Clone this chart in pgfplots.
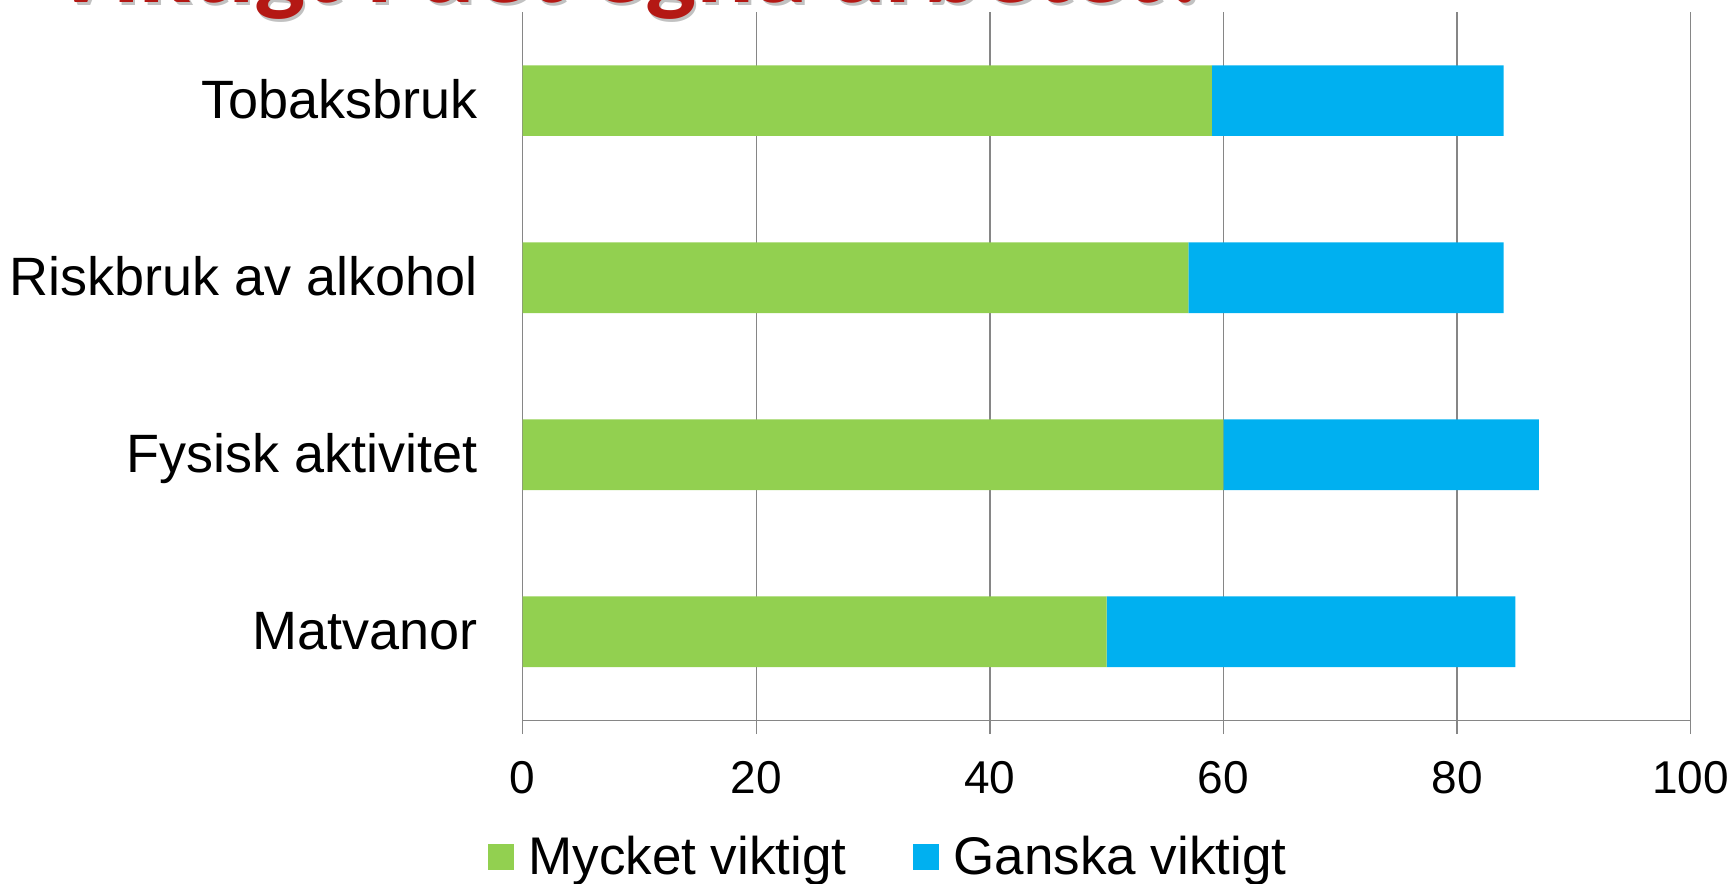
\documentclass[border=0pt]{standalone}
\usepackage{fontspec}
\setmainfont{Liberation Sans}
\newfontfamily\titlefont{Carlito}[FakeStretch=1.08]
\usepackage{pgfplots}
\pgfplotsset{compat=1.18}
\definecolor{cgreen}{RGB}{146,208,80}
\definecolor{cblue}{RGB}{0,176,240}
\definecolor{cgrid}{RGB}{134,134,134}
\definecolor{ctitle}{RGB}{180,24,20}
\begin{document}
\begin{tikzpicture}
\path[use as bounding box] (0,0) rectangle (868pt,442pt);
\clip (0,0) rectangle (868pt,442pt);
\node[anchor=base west, inner sep=0pt, text=black!35, opacity=0.7] at (25.8pt,439.2pt) {\titlefont\bfseries\fontsize{50}{58}\selectfont Viktigt i det egna arbetet?};
\node[anchor=base west, inner sep=0pt, text=ctitle] at (24.5pt,440.5pt) {\titlefont\bfseries\fontsize{50}{58}\selectfont Viktigt i det egna arbetet?};
\begin{axis}[
  at={(261.35pt,81.85pt)}, anchor=south west,
  scale only axis, width=583.95pt, height=354.1pt,
  xbar stacked, bar width=35.35pt,
  xmin=0, xmax=100, ymin=-0.5, ymax=3.5,
  axis lines*=left,
  axis line style={cgrid, line width=0.7pt},
  xmajorgrids, grid style={cgrid, line width=0.7pt},
  xtick={0,20,40,60,80,100},
  ytick={0,1,2,3},
  yticklabels={Matvanor,Fysisk aktivitet,Riskbruk av alkohol,Tobaksbruk},
  tick align=outside, major tick length=6.85pt,
  xtick style={cgrid, line width=0.7pt},
  ytick style={draw=none},
  /pgf/number format/assume math mode=true,
  xticklabel style={font=\fontsize{23}{26}\selectfont, anchor=base, inner sep=0pt, yshift=-29.6pt},
  yticklabel style={font=\fontsize{27}{30}\selectfont, anchor=base east, inner sep=0pt, xshift=-15.6pt, yshift=-8.7pt},
  legend columns=2,
  legend style={draw=none, fill=none, inner sep=0pt, at={(-0.0297,-0.193)}, anchor=west,
    font=\fontsize{26.5}{30}\selectfont,
    nodes={inner sep=0pt},
    /tikz/every odd column/.append style={column sep=7pt},
    /tikz/every even column/.append style={column sep=33.5pt}},
  legend image code/.code={\path[#1,draw=none] (0pt,-6.5pt) rectangle (13pt,6.5pt);},
]
\addplot[fill=cgreen, draw=none] coordinates {(50,0) (60,1) (57,2) (59,3)};
\addplot[fill=cblue, draw=none] coordinates {(35,0) (27,1) (27,2) (25,3)};
\legend{Mycket viktigt, Ganska viktigt}
\end{axis}
\end{tikzpicture}
\end{document}
